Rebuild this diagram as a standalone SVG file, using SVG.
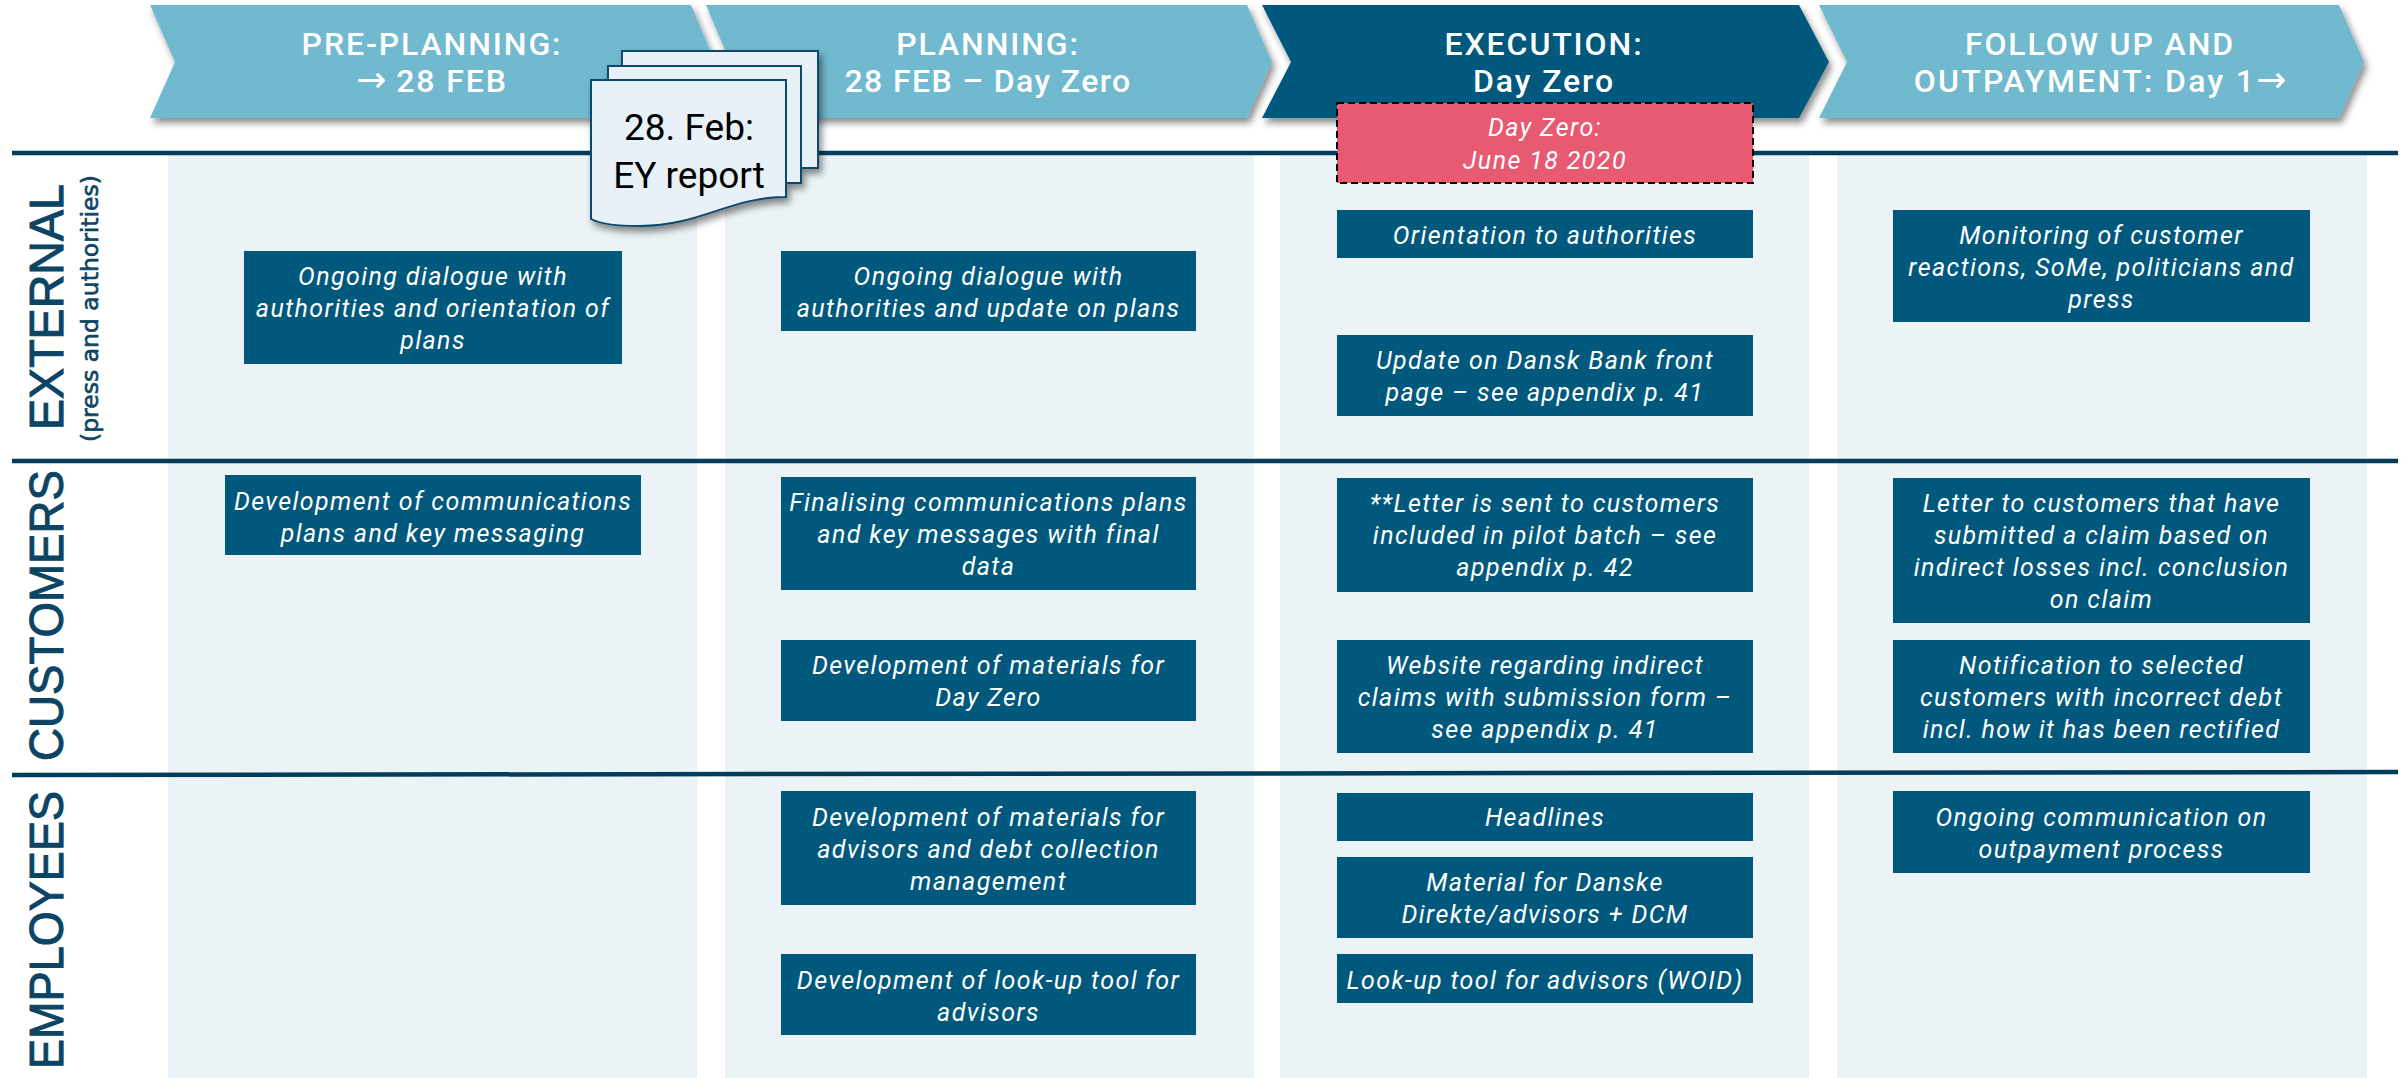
<svg xmlns="http://www.w3.org/2000/svg" width="2405" height="1078" viewBox="0 0 2405 1078">
<style>
.band{fill:#ebf3f6}
.rule{stroke:#003d5c;stroke-width:4.5;fill:none}
.box{fill:#00597c}
.t{font-family:"Roboto","Liberation Sans",sans-serif;font-style:italic;font-size:25px;letter-spacing:1.4px;fill:#fff;text-anchor:middle}
.h{font-family:"Roboto","Liberation Sans",sans-serif;font-size:32px;font-weight:500;letter-spacing:1.9px;fill:#fff;text-anchor:middle}
.arr{font-family:"DejaVu Sans",sans-serif;font-size:36px;letter-spacing:0}
.side{font-family:"Liberation Sans",Arial,sans-serif;font-size:48px;fill:#0c4464;stroke:#0c4464;stroke-width:1}
.sub{font-family:"DejaVu Sans",sans-serif;font-size:23px;fill:#0c4464;stroke:#0c4464;stroke-width:0.6}
.doc{fill:#e8f0f8;stroke:#0f4a6b;stroke-width:2}
.dt{font-family:"Roboto","Liberation Sans",sans-serif;font-size:37px;fill:#000;text-anchor:middle}
</style>
<defs>
<filter id="sh" x="-5%" y="-15%" width="110%" height="135%"><feDropShadow dx="3" dy="5" stdDeviation="3.5" flood-color="#000" flood-opacity="0.45"/></filter>
</defs>
<g id="bands">
<rect class="band" x="168" y="153" width="529" height="925"/>
<rect class="band" x="725" y="153" width="529" height="925"/>
<rect class="band" x="1280" y="153" width="529" height="925"/>
<rect class="band" x="1837" y="153" width="530" height="925"/>
</g>
<g id="rules">
<line class="rule" x1="12" y1="153" x2="2398" y2="153"/>
<line class="rule" x1="12" y1="461" x2="2398" y2="461"/>
<line class="rule" x1="12" y1="775" x2="2398" y2="772"/>
</g>
<g id="side-labels">
<text class="side" transform="translate(63 430) rotate(-90)" textLength="246" lengthAdjust="spacingAndGlyphs">EXTERNAL</text>
<text class="sub" transform="translate(98 442) rotate(-90)" textLength="267" lengthAdjust="spacingAndGlyphs">(press and authorities)</text>
<text class="side" transform="translate(63 761) rotate(-90)" textLength="291" lengthAdjust="spacingAndGlyphs">CUSTOMERS</text>
<text class="side" transform="translate(63 1069) rotate(-90)" textLength="278" lengthAdjust="spacingAndGlyphs">EMPLOYEES</text>
</g>
<g id="phase-preplanning">
<polygon points="150,5 691,5 715,62 691,118 150,118 175,62" fill="#6fb9cf" filter="url(#sh)"/>
<text class="h" x="432" y="55">PRE-PLANNING:</text><text class="h" x="432" y="92"><tspan class="arr">→</tspan> 28 FEB</text>
</g>
<g id="phase-planning">
<polygon points="706,5 1247,5 1272,62 1247,118 706,118 730,62" fill="#6fb9cf" filter="url(#sh)"/>
<text class="h" x="988" y="55">PLANNING:</text><text class="h" x="988" y="92" style="letter-spacing:1.4px">28 FEB – Day Zero</text>
</g>
<g id="phase-execution">
<polygon points="1262,5 1799,5 1829,62 1799,118 1262,118 1291,62" fill="#00597c" filter="url(#sh)"/>
<text class="h" x="1544" y="55">EXECUTION:</text><text class="h" x="1544" y="92">Day Zero</text>
</g>
<g id="phase-followup">
<polygon points="1819,5 2339,5 2364,62 2339,118 1819,118 1847,62" fill="#6fb9cf" filter="url(#sh)"/>
<text class="h" x="2100" y="55">FOLLOW UP AND</text><text class="h" x="2100" y="92" style="letter-spacing:2.3px">OUTPAYMENT: Day 1<tspan class="arr">→</tspan></text>
</g>
<g id="ext-1"><rect class="box" x="244" y="251" width="378" height="113"/>
<text class="t" x="433" y="285">Ongoing dialogue with</text><text class="t" x="433" y="317">authorities and orientation of</text><text class="t" x="433" y="349">plans</text></g>
<g id="ext-2"><rect class="box" x="781" y="251" width="415" height="80"/>
<text class="t" x="988.5" y="285">Ongoing dialogue with</text><text class="t" x="988.5" y="317">authorities and update on plans</text></g>
<g id="ext-3"><rect class="box" x="1337" y="210" width="416" height="48"/>
<text class="t" x="1545" y="244">Orientation to authorities</text></g>
<g id="ext-4"><rect class="box" x="1337" y="335" width="416" height="81"/>
<text class="t" x="1545" y="368.5">Update on Dansk Bank front</text><text class="t" x="1545" y="400.5">page – see appendix p. 41</text></g>
<g id="ext-5"><rect class="box" x="1893" y="210" width="417" height="112"/>
<text class="t" x="2101.5" y="244">Monitoring of customer</text><text class="t" x="2101.5" y="276">reactions, SoMe, politicians and</text><text class="t" x="2101.5" y="308">press</text></g>
<g id="cust-1"><rect class="box" x="225" y="475" width="416" height="80"/>
<text class="t" x="433" y="510">Development of communications</text><text class="t" x="433" y="542">plans and key messaging</text></g>
<g id="cust-2"><rect class="box" x="781" y="477" width="415" height="113"/>
<text class="t" x="988.5" y="510.5">Finalising communications plans</text><text class="t" x="988.5" y="542.5">and key messages with final</text><text class="t" x="988.5" y="574.5">data</text></g>
<g id="cust-3"><rect class="box" x="781" y="640" width="415" height="81"/>
<text class="t" x="988.5" y="673.5">Development of materials for</text><text class="t" x="988.5" y="705.5">Day Zero</text></g>
<g id="cust-4"><rect class="box" x="1337" y="478" width="416" height="114"/>
<text class="t" x="1545" y="512">**Letter is sent to customers</text><text class="t" x="1545" y="544">included in pilot batch – see</text><text class="t" x="1545" y="576">appendix p. 42</text></g>
<g id="cust-5"><rect class="box" x="1337" y="640" width="416" height="113"/>
<text class="t" x="1545" y="673.5">Website regarding indirect</text><text class="t" x="1545" y="705.5">claims with submission form –</text><text class="t" x="1545" y="737.5">see appendix p. 41</text></g>
<g id="cust-6"><rect class="box" x="1893" y="478" width="417" height="145"/>
<text class="t" x="2101.5" y="511.5">Letter to customers that have</text><text class="t" x="2101.5" y="543.5">submitted a claim based on</text><text class="t" x="2101.5" y="575.5">indirect losses incl. conclusion</text><text class="t" x="2101.5" y="607.5">on claim</text></g>
<g id="cust-7"><rect class="box" x="1893" y="640" width="417" height="113"/>
<text class="t" x="2101.5" y="673.5">Notification to selected</text><text class="t" x="2101.5" y="705.5">customers with incorrect debt</text><text class="t" x="2101.5" y="737.5">incl. how it has been rectified</text></g>
<g id="emp-1"><rect class="box" x="781" y="791" width="415" height="114"/>
<text class="t" x="988.5" y="826">Development of materials for</text><text class="t" x="988.5" y="858">advisors and debt collection</text><text class="t" x="988.5" y="890">management</text></g>
<g id="emp-2"><rect class="box" x="781" y="954" width="415" height="81"/>
<text class="t" x="988.5" y="988.5">Development of look-up tool for</text><text class="t" x="988.5" y="1020.5">advisors</text></g>
<g id="emp-3"><rect class="box" x="1337" y="793" width="416" height="48"/>
<text class="t" x="1545" y="826">Headlines</text></g>
<g id="emp-4"><rect class="box" x="1337" y="857" width="416" height="81"/>
<text class="t" x="1545" y="890.5">Material for Danske</text><text class="t" x="1545" y="922.5">Direkte/advisors + DCM</text></g>
<g id="emp-5"><rect class="box" x="1337" y="954" width="416" height="49"/>
<text class="t" x="1545" y="988.5">Look-up tool for advisors (WOID)</text></g>
<g id="emp-6"><rect class="box" x="1893" y="791" width="417" height="82"/>
<text class="t" x="2101.5" y="826">Ongoing communication on</text><text class="t" x="2101.5" y="858">outpayment process</text></g>
<g id="day-zero"><rect x="1337" y="103" width="416" height="80" fill="#e85a71" stroke="#000" stroke-width="2" stroke-dasharray="7 4"/>
<text class="t" x="1545" y="136">Day Zero:</text><text class="t" x="1545" y="168.5">June 18 2020</text></g>
<g id="ey-report">
<g filter="url(#sh)">
<rect class="doc" x="622" y="51" width="196" height="117"/>
<rect class="doc" x="608" y="66" width="193" height="117"/>
<path class="doc" d="M591,80H786V197C730,197 700,226 640,226C620,226 600,224 591,219Z"/>
</g>
<text class="dt" x="689" y="140">28. Feb:</text><text class="dt" x="689" y="188">EY report</text>
</g>
</svg>
